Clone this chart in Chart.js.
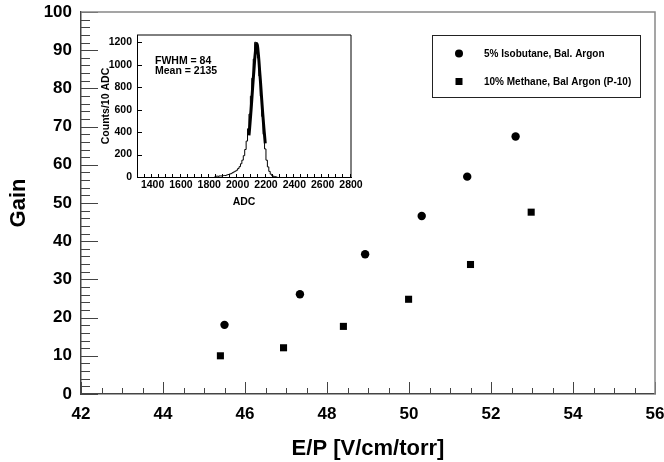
<!DOCTYPE html>
<html>
<head>
<meta charset="utf-8">
<script src="https://cdn.jsdelivr.net/npm/chart.js@4/dist/chart.umd.min.js"></script>
<style>
  body { margin: 0; background: #fff; }
  #wrap { position: relative; width: 664px; height: 462px; }
  #mainChart { position: absolute; left: 0; top: 0; }
  #insetChart { position: absolute; left: 86px; top: 28px; }
</style>
</head>
<body>
<div id="wrap">
  <canvas id="mainChart" width="664" height="462"></canvas>
  <canvas id="insetChart" width="280" height="180"></canvas>
</div>
<script>
// Main plot data
let xTicks = [42, 44, 46, 48, 50, 52, 54, 56];
let yTicks = [0, 10, 20, 30, 40, 50, 60, 70, 80, 90, 100];
let isobutaneEP = [45.5, 47.34, 48.93, 50.31, 51.42, 52.6];
let isobutaneGain = [18.1, 26.1, 36.6, 46.6, 56.9, 67.4];
let methaneEP = [45.4, 46.94, 48.4, 49.99, 51.5, 52.98];
let methaneGain = [10.0, 12.1, 17.7, 24.8, 33.9, 47.6];
let seriesNames = ["5% Isobutane, Bal. Argon", "10% Methane, Bal Argon (P-10)"];

// Inset histogram data (bin lower edges, 10 ADC bins)
let adcTicks = [1400, 1600, 1800, 2000, 2200, 2400, 2600, 2800];
let countTicks = [0, 200, 400, 600, 800, 1000, 1200];
let binEdges = [1840, 1850, 1860, 1870, 1880, 1890, 1900, 1910, 1920, 1930, 1940, 1950, 1960, 1970,
  1980, 1990, 2000, 2010, 2020, 2030, 2040, 2050, 2060, 2070, 2080, 2090, 2100, 2110, 2120, 2130,
  2140, 2150, 2160, 2170, 2180, 2190, 2200, 2210, 2220, 2230, 2240, 2250, 2260, 2270, 2280];
let binCounts = [0, 5, 8, 6, 10, 9, 12, 14, 13, 18, 22, 26, 30, 38,
  45, 52, 60, 75, 92, 118, 150, 190, 245, 320, 430, 560, 720, 880, 1050, 1200,
  1180, 1060, 900, 720, 540, 380, 250, 150, 90, 50, 25, 12, 6, 3, 0];
let fitADC = [2080, 2085, 2090, 2095, 2100, 2105, 2110, 2115, 2120, 2125, 2130, 2135,
  2140, 2145, 2150, 2155, 2160, 2165, 2170, 2175, 2180, 2185, 2190, 2195];
let fitCounts = [370, 440, 520, 600, 690, 780, 870, 950, 1040, 1110, 1170, 1190,
  1170, 1110, 1040, 950, 870, 780, 690, 600, 520, 440, 370, 300];
let fitText = ["FWHM = 84", "Mean = 2135"];

function pts(xs, ys) {
  return xs.map((x, i) => ({ x: x, y: ys[i] }));
}

// ticks drawn inside the frame, ROOT style, plus grey top/right frame
const innerTicks = {
  id: "innerTicks",
  afterDraw(chart, args, o) {
    const ctx = chart.ctx, a = chart.chartArea;
    const xs = chart.scales.x, ys = chart.scales.y;
    ctx.save();
    ctx.strokeStyle = o.color;
    ctx.lineWidth = 1;
    ctx.beginPath();
    for (let v = xs.min; v <= xs.max + 1e-9; v += o.xMinor) {
      const px = Math.round(xs.getPixelForValue(v)) + 0.5;
      const major = xs.ticks.some(t => Math.abs(t.value - v) < 1e-9);
      ctx.moveTo(px, a.bottom);
      ctx.lineTo(px, a.bottom - (major ? o.xMajorLen : o.xMinorLen));
    }
    for (let v = ys.min; v <= ys.max + 1e-9; v += o.yMinor) {
      const py = Math.round(ys.getPixelForValue(v)) + 0.5;
      const major = ys.ticks.some(t => Math.abs(t.value - v) < 1e-9);
      ctx.moveTo(a.left, py);
      ctx.lineTo(a.left + (major ? o.yMajorLen : o.yMinorLen), py);
    }
    ctx.stroke();
    ctx.strokeStyle = o.frameColor;
    ctx.lineWidth = o.frameWidth;
    ctx.beginPath();
    ctx.moveTo(a.left, a.top);
    ctx.lineTo(a.right, a.top);
    ctx.lineTo(a.right, a.bottom);
    ctx.stroke();
    ctx.restore();
  }
};

// boxed legend in the upper right
const boxLegend = {
  id: "boxLegend",
  afterDraw(chart, args, o) {
    if (!o.show) return;
    const ctx = chart.ctx;
    ctx.save();
    ctx.strokeStyle = "#222";
    ctx.lineWidth = 1;
    ctx.strokeRect(432.5, 35.5, 208, 62);
    ctx.fillStyle = "#000";
    ctx.font = "bold 10px 'Liberation Sans', Arial, sans-serif";
    ctx.textBaseline = "middle";
    const rows = [53.5, 81.5];
    chart.data.datasets.forEach((ds, i) => {
      const y = rows[i];
      ctx.beginPath();
      if (ds.pointStyle === "rect") {
        ctx.rect(455.5, y - 3.5, 7, 7);
      } else {
        ctx.arc(459, y, 4, 0, Math.PI * 2);
      }
      ctx.fill();
      ctx.fillText(ds.label, 484, y + 0.5);
    });
    ctx.restore();
  }
};

// fit result text in the inset
const fitLabel = {
  id: "fitLabel",
  afterDraw(chart, args, o) {
    if (!o.lines) return;
    const ctx = chart.ctx, a = chart.chartArea;
    ctx.save();
    ctx.fillStyle = "#000";
    ctx.font = "bold 10.5px 'Liberation Sans', Arial, sans-serif";
    ctx.textBaseline = "middle";
    o.lines.forEach((t, i) => ctx.fillText(t, a.left + 18, a.top + 26 + i * 10));
    ctx.restore();
  }
};

const bold = (s) => ({ family: "'Liberation Sans', Arial, sans-serif", size: s, weight: "bold" });
const plain = (v) => String(v);

new Chart(document.getElementById("mainChart"), {
  type: "scatter",
  data: {
    datasets: [{
      label: seriesNames[0],
      data: pts(isobutaneEP, isobutaneGain),
      pointStyle: "circle",
      pointRadius: 4.2,
      backgroundColor: "#000",
      borderColor: "#000",
      borderWidth: 0
    }, {
      label: seriesNames[1],
      data: pts(methaneEP, methaneGain),
      pointStyle: "rect",
      pointRadius: 5,
      backgroundColor: "#000",
      borderColor: "#000",
      borderWidth: 0
    }]
  },
  options: {
    responsive: false,
    animation: false,
    layout: { padding: { top: 12, right: 9, left: 0, bottom: 0 } },
    plugins: {
      legend: { display: false },
      tooltip: { enabled: false },
      innerTicks: { color: "#444", xMinor: 0.5, yMinor: 2, xMajorLen: 12, xMinorLen: 6,
        yMajorLen: 17, yMinorLen: 9, frameColor: "#888", frameWidth: 1.5 },
      boxLegend: { show: true }
    },
    scales: {
      x: {
        type: "linear", min: 42, max: 56,
        afterBuildTicks: (s) => { s.ticks = xTicks.map(v => ({ value: v })); },
        afterFit: (s) => { s.height = 68; s.paddingLeft = 0; s.paddingRight = 0; },
        grid: { display: false, drawTicks: false },
        border: { display: true, color: "#444", width: 1.5 },
        ticks: { color: "#000", font: bold(17), padding: 10, maxRotation: 0, callback: plain },
        title: { display: true, text: "E/P [V/cm/torr]", color: "#000", font: bold(22),
          padding: { top: 5, bottom: 0 } }
      },
      y: {
        type: "linear", min: 0, max: 100,
        afterBuildTicks: (s) => { s.ticks = yTicks.map(v => ({ value: v })); },
        afterFit: (s) => { s.width = 81; s.paddingTop = 0; s.paddingBottom = 0; },
        grid: { display: false, drawTicks: false },
        border: { display: true, color: "#444", width: 1.5 },
        ticks: { color: "#000", font: bold(17), padding: 9, callback: plain },
        title: { display: true, text: "Gain", color: "#000", font: bold(22),
          padding: { top: 6, bottom: 0 } }
      }
    }
  },
  plugins: [innerTicks, boxLegend]
});

new Chart(document.getElementById("insetChart"), {
  type: "scatter",
  data: {
    datasets: [{
      label: "Counts",
      data: pts(binEdges, binCounts),
      showLine: true,
      stepped: "after",
      borderColor: "#000",
      borderWidth: 1,
      pointRadius: 0
    }, {
      label: "Fit",
      data: pts(fitADC, fitCounts),
      showLine: true,
      tension: 0.3,
      borderColor: "#000",
      borderWidth: 3,
      pointRadius: 0
    }]
  },
  options: {
    responsive: false,
    animation: false,
    layout: { padding: { top: 7, right: 15, left: 0, bottom: 0 } },
    plugins: {
      legend: { display: false },
      tooltip: { enabled: false },
      innerTicks: { color: "#000", xMinor: 50, yMinor: 200, xMajorLen: 5, xMinorLen: 3,
        yMajorLen: 5, yMinorLen: 5, frameColor: "#000", frameWidth: 1 },
      fitLabel: { lines: fitText }
    },
    scales: {
      x: {
        type: "linear", min: 1290, max: 2800,
        afterBuildTicks: (s) => { s.ticks = adcTicks.map(v => ({ value: v })); },
        afterFit: (s) => { s.height = 31; s.paddingLeft = 0; s.paddingRight = 0; },
        grid: { display: false, drawTicks: false },
        border: { display: true, color: "#000", width: 1 },
        ticks: { color: "#000", font: bold(10.5), padding: 2, maxRotation: 0, autoSkip: false, callback: plain },
        title: { display: true, text: "ADC", color: "#000", font: bold(10.5), padding: { top: 0, bottom: 0 } }
      },
      y: {
        type: "linear", min: 0, max: 1265,
        afterBuildTicks: (s) => { s.ticks = countTicks.map(v => ({ value: v })); },
        afterFit: (s) => { s.width = 51; s.paddingTop = 0; s.paddingBottom = 0; },
        grid: { display: false, drawTicks: false },
        border: { display: true, color: "#000", width: 1 },
        ticks: { color: "#000", font: bold(10.5), padding: 5, callback: plain },
        title: { display: true, text: "Counts/10 ADC", color: "#000", font: bold(10.5), padding: { top: 14, bottom: 0 } }
      }
    }
  },
  plugins: [innerTicks, fitLabel]
});
</script>
</body>
</html>
